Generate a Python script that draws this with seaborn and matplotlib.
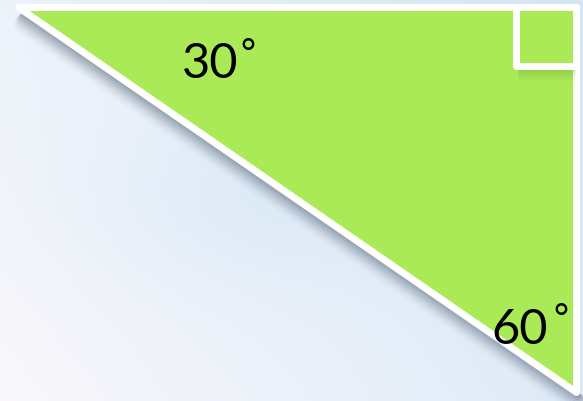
import numpy as np
import matplotlib
matplotlib.use('Agg')
import matplotlib.pyplot as plt
import seaborn as sns

# 三角形の頂点 (画像座標, yは下向き)
tri_x = [18, 576, 576]
tri_y = [8, 8, 393]
# 直角マーク
sq_x = [516, 576, 576, 516]
sq_y = [8, 8, 67, 67]
# 角度ラベル
angle_labels = ['30', '60']
label_x = [210, 520]
label_y = [63.5, 330]
deg_x = [248, 561]
deg_y = [51, 316.5]

W, H = 583, 402
green = '#aaea56'

sns.set_style('white')
plt.rcParams['font.family'] = ['Lato', 'DejaVu Sans']

fig = plt.figure(figsize=(W / 100, H / 100), dpi=100)
ax = fig.add_axes([0, 0, 1, 1])
ax.set_xlim(0, W)
ax.set_ylim(H, 0)
ax.axis('off')

# 背景グラデーション
u = np.linspace(0, 1, 200)[None, :]
v = np.linspace(0, 1, 140)[:, None]
tl = np.array([236, 243, 250]) / 255
tr = np.array([212, 229, 246]) / 255
bl = np.array([250, 248, 252]) / 255
br = np.array([222, 234, 247]) / 255
mid = np.array([214, 230, 245]) / 255
img = ((1 - u) * (1 - v))[..., None] * tl + (u * (1 - v))[..., None] * tr \
    + ((1 - u) * v)[..., None] * bl + (u * v)[..., None] * br
bump = np.exp(-((u - 0.45) ** 2 / 0.08 + (v - 0.5) ** 2 / 0.05))[..., None]
img = img * (1 - 0.5 * bump) + mid * 0.5 * bump
ax.imshow(img, extent=[0, W, H, 0], aspect='auto', zorder=0)

# 斜辺の影
for i, a in enumerate(np.linspace(0.14, 0.02, 8)):
    off = 3 + i * 1.5
    ax.plot([tri_x[0] + 6, tri_x[2] + 2], [tri_y[0] + off + 4, tri_y[2] + off],
            color='#4a5a70', lw=4 + i * 1.5, alpha=a, solid_capstyle='round', zorder=1)

ax.fill(tri_x, tri_y, facecolor=green, edgecolor='white', lw=5,
        joinstyle='round', zorder=2)

# 直角マークの影
for i, a in enumerate(np.linspace(0.10, 0.02, 6)):
    ax.plot([sq_x[0] + 4, sq_x[1] - 2], [sq_y[2] + 3 + i * 2, sq_y[2] + 3 + i * 2],
            color='#3a6a20', lw=3, alpha=a, zorder=2.5)
ax.fill(sq_x, sq_y, facecolor=green, edgecolor='white', lw=5,
        joinstyle='round', zorder=3)

for t, x, y, dx, dy in zip(angle_labels, label_x, label_y, deg_x, deg_y):
    ax.text(x, y, t, fontsize=35, ha='center', va='center', color='black', zorder=4)
    ax.text(dx, dy, '\u00B0', fontsize=26, ha='center', va='center_baseline',
            color='black', zorder=4)

fig.savefig('out.png', dpi=100)
